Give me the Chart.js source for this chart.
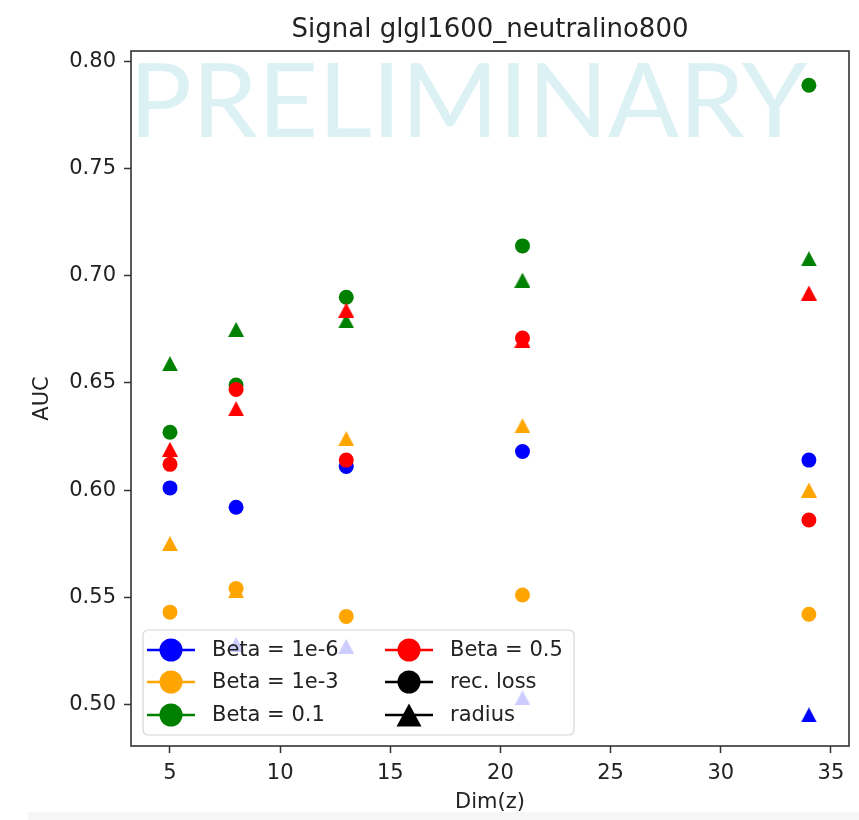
<!DOCTYPE html>
<html>
<head>
<meta charset="utf-8">
<script src="https://cdn.jsdelivr.net/npm/chart.js@4.4.0/dist/chart.umd.min.js"></script>
<style>
  body { margin: 0; background: #fff; }
  #auc { display: block; }
</style>
</head>
<body>
<canvas id="auc" width="859" height="820"></canvas>
<script>
// latent space sizes that were scanned
const dims = [5, 8, 13, 21, 34];

const betaLabels = ['Beta = 1e-6', 'Beta = 1e-3', 'Beta = 0.1', 'Beta = 0.5'];
const betaColors = ['#0000ff', '#ffa500', '#008000', '#ff0000'];

// AUC with the reconstruction loss as discriminant
const recLoss1e6 = [0.601, 0.592, 0.611, 0.618, 0.614];
const recLoss1e3 = [0.543, 0.554, 0.541, 0.551, 0.542];
const recLoss01 = [0.627, 0.649, 0.690, 0.714, 0.789];
const recLoss05 = [0.612, 0.647, 0.614, 0.671, 0.586];

// AUC with the latent radius as discriminant
const radius1e6 = [null, 0.528, 0.527, 0.503, 0.495];
const radius1e3 = [0.575, 0.553, 0.624, 0.630, 0.600];
const radius01 = [0.659, 0.675, 0.679, 0.698, 0.708];
const radius05 = [0.619, 0.638, 0.684, 0.670, 0.692];

const xTicks = [5, 10, 15, 20, 25, 30, 35];
const yTicks = [0.50, 0.55, 0.60, 0.65, 0.70, 0.75, 0.80];

const recLoss = [recLoss1e6, recLoss1e3, recLoss01, recLoss05];
const radius = [radius1e6, radius1e3, radius01, radius05];

const FONT = "'DejaVu Sans', sans-serif";
const TEXT = '#222';
const TITLE = 'Signal glgl1600_neutralino800';

// upward triangle centred on its half height, like the matplotlib '^' marker
function triangleMarker(color, w, h) {
  const c = document.createElement('canvas');
  c.width = w; c.height = h;
  const g = c.getContext('2d');
  g.fillStyle = color;
  g.beginPath();
  g.moveTo(w / 2, 0);
  g.lineTo(w, h);
  g.lineTo(0, h);
  g.closePath();
  g.fill();
  return c;
}

function toPoints(ys) {
  const pts = [];
  ys.forEach(function (y, i) {
    if (y !== null) pts.push({ x: dims[i], y: y });
  });
  return pts;
}

const datasets = [];
betaColors.forEach(function (col, b) {
  datasets.push({
    label: betaLabels[b] + ' rec. loss',
    data: toPoints(recLoss[b]),
    pointStyle: 'circle',
    pointRadius: 7.5,
    pointBorderWidth: 0,
    backgroundColor: col,
    borderColor: col
  });
  datasets.push({
    label: betaLabels[b] + ' radius',
    data: toPoints(radius[b]),
    pointStyle: triangleMarker(col, 16, 15),
    pointRadius: 7.5,
    backgroundColor: col,
    borderColor: col
  });
});
// later series go on top
datasets.forEach(function (d, i) { d.order = datasets.length - i; });

// title, watermark, frame, legend
const decorations = {
  id: 'decorations',
  beforeDraw(chart) {
    const ctx = chart.ctx;
    const a = chart.chartArea;
    ctx.save();
    ctx.fillStyle = '#f6f6f6';
    ctx.fillRect(28, 812, 831, 8);
    ctx.fillStyle = TEXT;
    ctx.font = '26px ' + FONT;
    ctx.textAlign = 'center';
    ctx.textBaseline = 'alphabetic';
    ctx.fillText(TITLE, (a.left + a.right) / 2, 37);
    ctx.restore();
  },
  beforeDatasetsDraw(chart) {
    const ctx = chart.ctx;
    ctx.save();
    ctx.font = "400 106px Lato, 'Open Sans', sans-serif";
    const m = ctx.measureText('PRELIMINARY');
    const sx = 670 / (m.actualBoundingBoxLeft + m.actualBoundingBoxRight);
    const sy = 75 / m.actualBoundingBoxAscent;
    ctx.translate(138, 137);
    ctx.scale(sx, sy);
    ctx.fillStyle = '#dcf1f3';
    ctx.textBaseline = 'alphabetic';
    ctx.fillText('PRELIMINARY', m.actualBoundingBoxLeft, 0);
    ctx.restore();
  },
  afterDatasetsDraw(chart) {
    const ctx = chart.ctx;
    const a = chart.chartArea;
    ctx.save();
    ctx.strokeStyle = '#333';
    ctx.lineWidth = 1.6;
    ctx.strokeRect(a.left, a.top, a.right - a.left, a.bottom - a.top);

    // legend box
    const bx = 143, by = 630, bw = 431, bh = 105, r = 5;
    ctx.beginPath();
    ctx.moveTo(bx + r, by);
    ctx.arcTo(bx + bw, by, bx + bw, by + bh, r);
    ctx.arcTo(bx + bw, by + bh, bx, by + bh, r);
    ctx.arcTo(bx, by + bh, bx, by, r);
    ctx.arcTo(bx, by, bx + bw, by, r);
    ctx.closePath();
    ctx.fillStyle = 'rgba(255,255,255,0.8)';
    ctx.fill();
    ctx.strokeStyle = '#d6d6d6';
    ctx.lineWidth = 1.2;
    ctx.stroke();

    const entries = [
      { text: betaLabels[0], color: betaColors[0], shape: 'circle' },
      { text: betaLabels[1], color: betaColors[1], shape: 'circle' },
      { text: betaLabels[2], color: betaColors[2], shape: 'circle' },
      { text: betaLabels[3], color: betaColors[3], shape: 'circle' },
      { text: 'rec. loss', color: '#000', shape: 'circle' },
      { text: 'radius', color: '#000', shape: 'triangle' }
    ];
    const colX = [147, 385];
    const rowY = [650, 682, 715];
    ctx.font = '21px ' + FONT;
    ctx.textBaseline = 'middle';
    entries.forEach(function (e, i) {
      const x0 = colX[Math.floor(i / 3)];
      const y = rowY[i % 3];
      const cx = x0 + 24;
      ctx.strokeStyle = e.color;
      ctx.lineWidth = 2.6;
      ctx.beginPath();
      ctx.moveTo(x0, y);
      ctx.lineTo(x0 + 48, y);
      ctx.stroke();
      ctx.fillStyle = e.color;
      ctx.beginPath();
      if (e.shape === 'circle') {
        ctx.arc(cx, y, 11.5, 0, Math.PI * 2);
      } else {
        ctx.moveTo(cx, y - 11.5);
        ctx.lineTo(cx + 12.5, y + 11.5);
        ctx.lineTo(cx - 12.5, y + 11.5);
        ctx.closePath();
      }
      ctx.fill();
      ctx.fillStyle = TEXT;
      ctx.fillText(e.text, x0 + 65, y + 1);
    });
    ctx.restore();
  }
};

new Chart(document.getElementById('auc'), {
  type: 'scatter',
  data: { datasets: datasets },
  plugins: [decorations],
  options: {
    responsive: false,
    animation: false,
    events: [],
    layout: { padding: { left: 0, right: 10, top: 51, bottom: 0 } },
    plugins: {
      legend: { display: false },
      tooltip: { enabled: false },
      title: { display: false }
    },
    scales: {
      x: {
        type: 'linear',
        min: 3.23,
        max: 35.82,
        afterFit: function (s) { s.height = 74; },
        afterBuildTicks: function (s) { s.ticks = xTicks.map(function (v) { return { value: v }; }); },
        grid: { display: true, drawOnChartArea: false, drawTicks: true, tickLength: 7, tickWidth: 1.5, tickColor: '#333' },
        border: { display: false },
        ticks: { color: TEXT, font: { family: FONT, size: 21 }, padding: 8, maxRotation: 0 },
        title: { display: true, text: 'Dim(z)', color: TEXT, font: { family: FONT, size: 21 }, padding: { bottom: 5 } }
      },
      y: {
        type: 'linear',
        min: 0.4805,
        max: 0.805,
        afterFit: function (s) { s.width = 131; },
        afterBuildTicks: function (s) { s.ticks = yTicks.map(function (v) { return { value: v }; }); },
        grid: { display: true, drawOnChartArea: false, drawTicks: true, tickLength: 7, tickWidth: 1.5, tickColor: '#333' },
        border: { display: false },
        ticks: {
          color: TEXT, font: { family: FONT, size: 21 }, padding: 8,
          callback: function (v) { return v.toFixed(2); }
        },
        title: { display: true, text: 'AUC', color: TEXT, font: { family: FONT, size: 21 }, padding: { top: 30 } }
      }
    }
  }
});
</script>
</body>
</html>
